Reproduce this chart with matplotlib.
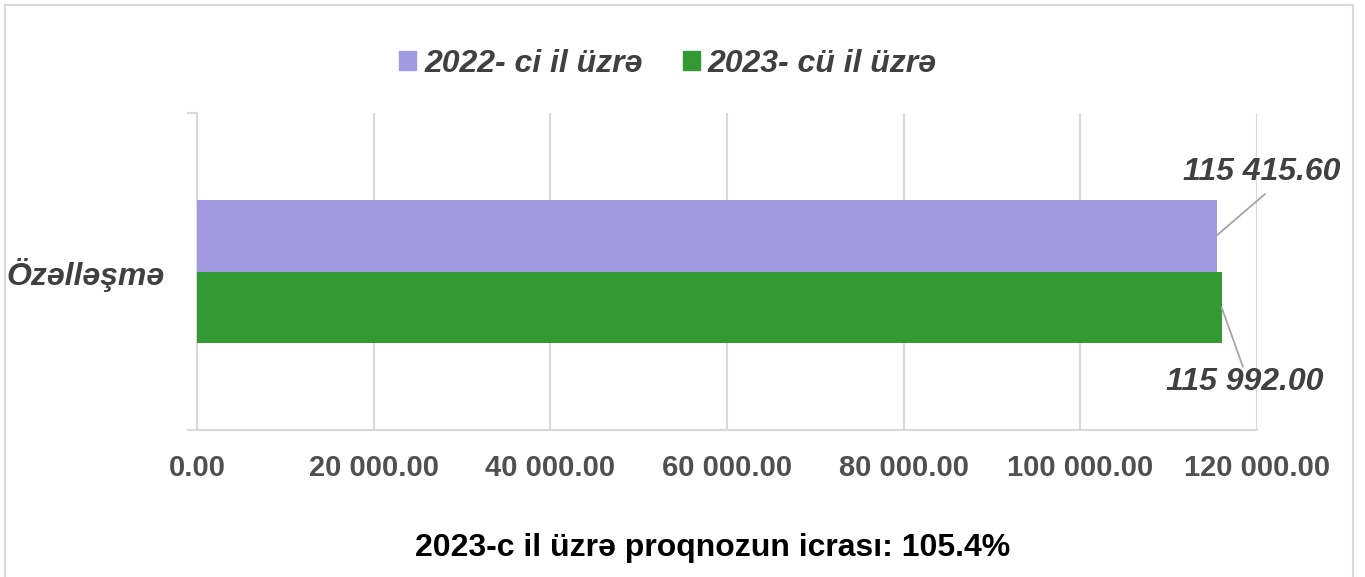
import numpy as np
import matplotlib.pyplot as plt
from matplotlib.patches import Rectangle, Patch

# data
category = ['Özəlləşmə']
series_names = ['2022- ci il üzrə', '2023- cü il üzrə']
values_2022 = [115415.60]
values_2023 = [115992.00]
x_ticks = [0, 20000, 40000, 60000, 80000, 100000, 120000]
footer = '2023-c il üzrə proqnozun icrası: 105.4%'

purple = '#A29AE0'
green = '#339933'
text_col = '#404040'
grid_col = '#D9D9D9'

plt.rcParams['font.family'] = ['Liberation Sans', 'DejaVu Sans']

fig = plt.figure(figsize=(13.65, 5.77), dpi=100)
ax = fig.add_axes([197/1365, 147/577, 1060/1365, 317/577])

bar_h = 0.226
y = np.arange(len(category))
ax.barh(y + bar_h/2, values_2022, height=bar_h, color=purple, zorder=3)
ax.barh(y - bar_h/2, values_2023, height=bar_h, color=green, zorder=3)

ax.set_xlim(0, 120000)
ax.set_ylim(-0.5, 0.5)

# x axis
ax.set_xticks(x_ticks)
ax.set_xticklabels([f'{v:,.2f}'.replace(',', ' ') for v in x_ticks],
                   fontsize=21, fontweight='bold', color='#505050')
ax.tick_params(axis='x', length=0, pad=17)
ax.grid(axis='x', color=grid_col, lw=1.5, zorder=0)

# y axis
ax.set_yticks(y)
ax.set_yticklabels(category, fontsize=23, fontweight='bold',
                   fontstyle='italic', color=text_col)
ax.tick_params(axis='y', which='major', length=0, pad=23)
ax.set_yticks([-0.5, 0.5], minor=True)
ax.tick_params(axis='y', which='minor', length=7.5, width=1.5, color=grid_col)

for s in ['top', 'right']:
    ax.spines[s].set_visible(False)
for s in ['left', 'bottom']:
    ax.spines[s].set_color(grid_col)
    ax.spines[s].set_linewidth(1.5)

# data labels with leader lines
lbl_kw = dict(fontsize=23, fontweight='bold', fontstyle='italic',
              color=text_col, ha='center', va='center')
ax.text(120566, 0.314, f'{values_2022[0]:,.2f}'.replace(',', ' '), **lbl_kw)
ax.annotate('', xy=(values_2022[0], bar_h/2), xytext=(120906, 0.2445),
            arrowprops=dict(arrowstyle='-', color='#A6A6A6', lw=1.3,
                            shrinkA=0, shrinkB=0))
ax.text(118641, -0.349, f'{values_2023[0]:,.2f}'.replace(',', ' '), **lbl_kw)
ax.annotate('', xy=(values_2023[0], -bar_h/2), xytext=(118415, -0.301),
            arrowprops=dict(arrowstyle='-', color='#A6A6A6', lw=1.3,
                            shrinkA=0, shrinkB=0))

# legend
handles = [Patch(color=purple), Patch(color=green)]
leg = fig.legend(handles, series_names, loc='center', ncol=2,
                 bbox_to_anchor=(668/1365, 1 - 64/577), frameon=False,
                 prop=dict(size=23, weight='bold', style='italic'),
                 handlelength=0.53, handleheight=0.55, handletextpad=0.25,
                 columnspacing=1.25, borderpad=0, borderaxespad=0)
for t in leg.get_texts():
    t.set_color(text_col)

fig.text(713/1365, 1 - 548/577, footer, ha='center', va='center',
         fontsize=23, fontweight='bold', color='black')

# chart border
fig.patches.append(Rectangle((5/1365, -0.01), 1348/1365, 1 - 5/577 + 0.01,
                             transform=fig.transFigure, fill=False,
                             edgecolor=grid_col, lw=1.5))

fig.savefig('out.png', dpi=100)
